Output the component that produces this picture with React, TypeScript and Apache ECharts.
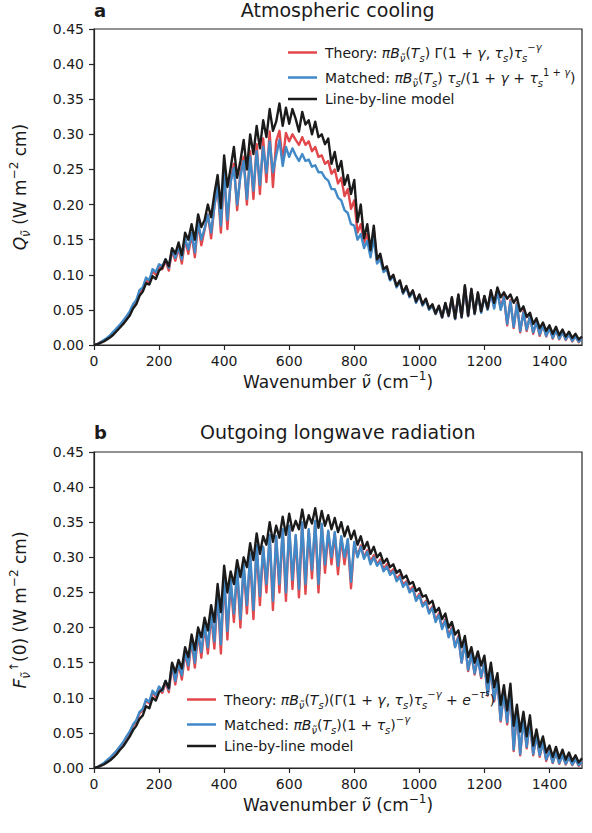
import React, { useEffect, useRef } from "react";
import * as echarts from "echarts";

const WAVENUMBER_STEP = 10; // cm^-1 spacing of the sampled spectra below (0..1500)
const Y_TICKS = [0, 0.05, 0.1, 0.15, 0.2, 0.25, 0.3, 0.35, 0.4, 0.45];
const X_TICKS = [0, 200, 400, 600, 800, 1000, 1200, 1400];

// Panel a: atmospheric cooling Q (W m^-2 cm)
const coolingLbl = [
  0.000, 0.001, 0.003, 0.005, 0.008, 0.011, 0.015, 0.020, 0.025, 0.030,
  0.036, 0.042, 0.052, 0.058, 0.070, 0.076, 0.088, 0.086, 0.098, 0.094,
  0.106, 0.110, 0.122, 0.112, 0.138, 0.130, 0.146, 0.128, 0.160, 0.150,
  0.172, 0.150, 0.186, 0.168, 0.178, 0.200, 0.182, 0.215, 0.242, 0.195,
  0.270, 0.225, 0.252, 0.282, 0.238, 0.262, 0.292, 0.250, 0.300, 0.272,
  0.312, 0.280, 0.320, 0.296, 0.336, 0.305, 0.318, 0.344, 0.312, 0.338,
  0.315, 0.336, 0.322, 0.304, 0.332, 0.314, 0.320, 0.300, 0.318, 0.296,
  0.300, 0.286, 0.294, 0.258, 0.275, 0.248, 0.262, 0.228, 0.242, 0.215,
  0.235, 0.175, 0.200, 0.152, 0.172, 0.135, 0.170, 0.122, 0.130, 0.108,
  0.112, 0.094, 0.100, 0.084, 0.092, 0.075, 0.084, 0.070, 0.078, 0.062,
  0.072, 0.058, 0.066, 0.052, 0.058, 0.045, 0.056, 0.040, 0.060, 0.042,
  0.068, 0.038, 0.072, 0.040, 0.085, 0.042, 0.080, 0.045, 0.075, 0.048,
  0.070, 0.052, 0.078, 0.060, 0.082, 0.068, 0.075, 0.066, 0.072, 0.060,
  0.068, 0.048, 0.055, 0.040, 0.046, 0.030, 0.038, 0.024, 0.032, 0.020,
  0.028, 0.016, 0.026, 0.014, 0.022, 0.012, 0.019, 0.010, 0.016, 0.008,
  0.012,
];
const coolingMatched = [
  0.000, 0.001, 0.004, 0.007, 0.010, 0.014, 0.019, 0.024, 0.029, 0.035,
  0.041, 0.048, 0.058, 0.064, 0.078, 0.082, 0.096, 0.092, 0.108, 0.104,
  0.115, 0.112, 0.122, 0.110, 0.136, 0.124, 0.140, 0.122, 0.152, 0.136,
  0.160, 0.132, 0.175, 0.150, 0.166, 0.185, 0.160, 0.198, 0.226, 0.170,
  0.246, 0.178, 0.232, 0.252, 0.200, 0.240, 0.262, 0.208, 0.268, 0.220,
  0.276, 0.228, 0.282, 0.245, 0.290, 0.246, 0.270, 0.292, 0.255, 0.282,
  0.268, 0.280, 0.270, 0.262, 0.272, 0.262, 0.264, 0.254, 0.256, 0.246,
  0.246, 0.238, 0.234, 0.222, 0.222, 0.210, 0.206, 0.192, 0.188, 0.172,
  0.170, 0.150, 0.158, 0.138, 0.148, 0.125, 0.152, 0.116, 0.122, 0.104,
  0.108, 0.092, 0.098, 0.082, 0.090, 0.073, 0.082, 0.068, 0.076, 0.060,
  0.070, 0.056, 0.064, 0.050, 0.056, 0.044, 0.054, 0.039, 0.058, 0.041,
  0.066, 0.037, 0.070, 0.039, 0.083, 0.041, 0.078, 0.044, 0.073, 0.046,
  0.068, 0.050, 0.074, 0.052, 0.076, 0.050, 0.068, 0.030, 0.062, 0.026,
  0.058, 0.020, 0.046, 0.022, 0.040, 0.018, 0.032, 0.015, 0.028, 0.013,
  0.024, 0.010, 0.021, 0.009, 0.018, 0.008, 0.015, 0.006, 0.012, 0.005,
  0.009,
];
const coolingTheory = [
  0.000, 0.001, 0.004, 0.006, 0.009, 0.013, 0.018, 0.023, 0.028, 0.033,
  0.039, 0.046, 0.055, 0.061, 0.075, 0.079, 0.093, 0.089, 0.105, 0.100,
  0.112, 0.108, 0.120, 0.106, 0.134, 0.120, 0.138, 0.116, 0.150, 0.130,
  0.158, 0.125, 0.174, 0.142, 0.164, 0.186, 0.152, 0.198, 0.228, 0.160,
  0.248, 0.165, 0.234, 0.258, 0.192, 0.244, 0.268, 0.200, 0.276, 0.208,
  0.286, 0.215, 0.294, 0.232, 0.304, 0.225, 0.290, 0.305, 0.262, 0.302,
  0.290, 0.300, 0.292, 0.285, 0.296, 0.285, 0.290, 0.276, 0.282, 0.268,
  0.270, 0.258, 0.262, 0.244, 0.250, 0.230, 0.238, 0.212, 0.222, 0.194,
  0.206, 0.160, 0.172, 0.146, 0.158, 0.128, 0.164, 0.118, 0.126, 0.106,
  0.110, 0.093, 0.099, 0.083, 0.091, 0.074, 0.083, 0.069, 0.077, 0.061,
  0.071, 0.057, 0.065, 0.051, 0.057, 0.044, 0.055, 0.039, 0.059, 0.041,
  0.067, 0.037, 0.071, 0.039, 0.084, 0.041, 0.079, 0.044, 0.074, 0.047,
  0.069, 0.051, 0.076, 0.054, 0.079, 0.052, 0.070, 0.028, 0.064, 0.024,
  0.060, 0.018, 0.048, 0.020, 0.042, 0.016, 0.034, 0.013, 0.030, 0.012,
  0.025, 0.009, 0.022, 0.008, 0.019, 0.007, 0.016, 0.005, 0.013, 0.004,
  0.010,
];

// Panel b: outgoing longwave radiation F(0) (W m^-2 cm)
const olrLbl = [
  0.000, 0.001, 0.003, 0.005, 0.008, 0.011, 0.015, 0.020, 0.026, 0.031,
  0.038, 0.045, 0.054, 0.060, 0.070, 0.075, 0.088, 0.085, 0.100, 0.096,
  0.108, 0.112, 0.124, 0.114, 0.150, 0.136, 0.154, 0.142, 0.172, 0.158,
  0.190, 0.168, 0.200, 0.186, 0.214, 0.196, 0.232, 0.208, 0.262, 0.222,
  0.288, 0.250, 0.280, 0.262, 0.296, 0.272, 0.300, 0.286, 0.320, 0.296,
  0.334, 0.305, 0.330, 0.318, 0.350, 0.322, 0.345, 0.328, 0.358, 0.332,
  0.362, 0.338, 0.352, 0.340, 0.368, 0.342, 0.360, 0.348, 0.370, 0.342,
  0.366, 0.345, 0.360, 0.340, 0.356, 0.336, 0.350, 0.330, 0.344, 0.326,
  0.338, 0.318, 0.330, 0.312, 0.322, 0.305, 0.315, 0.300, 0.306, 0.292,
  0.298, 0.286, 0.290, 0.278, 0.282, 0.270, 0.274, 0.262, 0.265, 0.252,
  0.256, 0.244, 0.246, 0.234, 0.238, 0.222, 0.228, 0.212, 0.220, 0.200,
  0.208, 0.190, 0.196, 0.172, 0.188, 0.158, 0.172, 0.150, 0.166, 0.146,
  0.160, 0.122, 0.150, 0.115, 0.135, 0.090, 0.118, 0.082, 0.120, 0.060,
  0.090, 0.052, 0.080, 0.045, 0.075, 0.032, 0.055, 0.030, 0.045, 0.022,
  0.032, 0.016, 0.030, 0.014, 0.026, 0.012, 0.022, 0.010, 0.018, 0.008,
  0.014,
];
const olrMatched = [
  0.000, 0.001, 0.004, 0.007, 0.011, 0.015, 0.020, 0.025, 0.031, 0.037,
  0.045, 0.052, 0.062, 0.068, 0.080, 0.084, 0.098, 0.094, 0.110, 0.104,
  0.116, 0.110, 0.124, 0.112, 0.148, 0.124, 0.150, 0.132, 0.166, 0.146,
  0.184, 0.150, 0.194, 0.165, 0.205, 0.172, 0.222, 0.180, 0.250, 0.176,
  0.275, 0.195, 0.268, 0.220, 0.284, 0.212, 0.290, 0.232, 0.305, 0.225,
  0.318, 0.245, 0.315, 0.262, 0.332, 0.238, 0.330, 0.262, 0.340, 0.250,
  0.345, 0.268, 0.332, 0.255, 0.350, 0.262, 0.340, 0.282, 0.352, 0.262,
  0.348, 0.290, 0.338, 0.300, 0.336, 0.288, 0.330, 0.300, 0.326, 0.265,
  0.322, 0.300, 0.315, 0.298, 0.308, 0.290, 0.300, 0.288, 0.294, 0.280,
  0.287, 0.275, 0.280, 0.266, 0.272, 0.258, 0.264, 0.250, 0.255, 0.238,
  0.246, 0.230, 0.236, 0.220, 0.228, 0.208, 0.218, 0.198, 0.210, 0.186,
  0.198, 0.172, 0.186, 0.150, 0.178, 0.140, 0.162, 0.135, 0.156, 0.130,
  0.150, 0.105, 0.140, 0.097, 0.125, 0.068, 0.108, 0.065, 0.110, 0.026,
  0.080, 0.020, 0.070, 0.030, 0.066, 0.020, 0.046, 0.018, 0.036, 0.012,
  0.024, 0.008, 0.022, 0.007, 0.018, 0.006, 0.015, 0.005, 0.012, 0.004,
  0.009,
];
const olrTheory = [
  0.000, 0.001, 0.004, 0.006, 0.010, 0.014, 0.019, 0.024, 0.030, 0.036,
  0.043, 0.050, 0.060, 0.066, 0.078, 0.082, 0.096, 0.092, 0.108, 0.101,
  0.114, 0.107, 0.122, 0.108, 0.146, 0.119, 0.148, 0.126, 0.164, 0.140,
  0.182, 0.143, 0.192, 0.157, 0.203, 0.163, 0.220, 0.170, 0.248, 0.163,
  0.273, 0.183, 0.266, 0.208, 0.282, 0.200, 0.288, 0.220, 0.303, 0.212,
  0.316, 0.232, 0.313, 0.250, 0.330, 0.225, 0.328, 0.250, 0.338, 0.238,
  0.343, 0.255, 0.330, 0.243, 0.348, 0.248, 0.338, 0.270, 0.350, 0.250,
  0.346, 0.278, 0.336, 0.290, 0.334, 0.276, 0.328, 0.290, 0.324, 0.256,
  0.320, 0.302, 0.317, 0.300, 0.310, 0.293, 0.303, 0.290, 0.297, 0.283,
  0.290, 0.278, 0.283, 0.269, 0.275, 0.261, 0.266, 0.252, 0.258, 0.240,
  0.248, 0.232, 0.238, 0.222, 0.230, 0.210, 0.220, 0.200, 0.212, 0.188,
  0.200, 0.173, 0.188, 0.150, 0.180, 0.138, 0.164, 0.133, 0.158, 0.128,
  0.152, 0.103, 0.142, 0.095, 0.127, 0.066, 0.110, 0.062, 0.112, 0.024,
  0.082, 0.018, 0.072, 0.028, 0.068, 0.018, 0.048, 0.016, 0.038, 0.010,
  0.026, 0.007, 0.023, 0.006, 0.019, 0.005, 0.016, 0.004, 0.013, 0.003,
  0.010,
];

const FONT = "'DejaVu Sans', sans-serif";
const INK = "#1a1a1a";
const RED = "#e2474c";
const BLUE = "#4189c7";
const BLACK = "#1b1b1b";

const LEGEND_TEXT: Record<string, string> = {
  ta: "{n|Theory: }{i|πB}{sub|ν̃}{n|(}{i|T}{sub|s}{n|) Γ(1 + }{i|γ}{n|, }{i|τ}{sub|s}{n|)}{i|τ}{sub|s}{sup|−}{isup|γ}",
  ma: "{n|Matched: }{i|πB}{sub|ν̃}{n|(}{i|T}{sub|s}{n|) }{i|τ}{sub|s}{n|/(1 + }{i|γ}{n| + }{i|τ}{sub|s}{sup|1 + }{isup|γ}{n|)}",
  la: "{n|Line-by-line model}",
  tb: "{n|Theory: }{i|πB}{sub|ν̃}{n|(}{i|T}{sub|s}{n|)(Γ(1 + }{i|γ}{n|, }{i|τ}{sub|s}{n|)}{i|τ}{sub|s}{sup|−}{isup|γ}{n| + }{i|e}{sup|−}{isup|τ}{ssub|s}{n|)}",
  mb: "{n|Matched: }{i|πB}{sub|ν̃}{n|(}{i|T}{sub|s}{n|)(1 + }{i|τ}{sub|s}{n|)}{sup|−}{isup|γ}",
  lb: "{n|Line-by-line model}",
};

function makeRich(size: number, lh: number) {
  const small = Math.round(size * 0.7);
  return {
    n: { fontFamily: FONT, fontSize: size, lineHeight: lh, color: INK },
    i: { fontFamily: FONT, fontSize: size, lineHeight: lh, color: INK, fontStyle: "italic" },
    sub: { fontFamily: FONT, fontSize: small, lineHeight: small + 2, color: INK, fontStyle: "italic", verticalAlign: "bottom" },
    sup: { fontFamily: FONT, fontSize: small, lineHeight: small + 2, color: INK, verticalAlign: "top" },
    isup: { fontFamily: FONT, fontSize: small, lineHeight: small + 2, color: INK, fontStyle: "italic", verticalAlign: "top" },
    ssub: { fontFamily: FONT, fontSize: small - 2, lineHeight: small + 6, color: INK, fontStyle: "italic", verticalAlign: "top" },
  };
}

function pairs(values: number[]) {
  return values.map((v, i) => [i * WAVENUMBER_STEP, v]);
}

export default function App() {
  const ref = useRef<HTMLDivElement>(null);
  useEffect(() => {
    document.body.style.margin = "0";
    const chart = echarts.init(ref.current!, null, { renderer: "svg" });
    const axisColor = "#262626";
    const xAxisBase = (gridIndex: number) => ({
      type: "value",
      gridIndex,
      min: 0,
      max: 1500,
      interval: 200,
      name: "{n|Wavenumber }{i|ν̃}{n| (cm}{sup|−1}{n|)}",
      nameLocation: "middle",
      nameGap: 25,
      nameTextStyle: { rich: makeRich(17, 24) },
      axisLine: { show: true, lineStyle: { color: axisColor, width: 1.2 } },
      axisTick: { show: true, inside: false, length: 5, lineStyle: { color: axisColor, width: 1.2 } },
      axisLabel: {
        showMaxLabel: false,
        margin: 9,
        fontFamily: FONT,
        fontSize: 14,
        color: INK,
        formatter: (v: number) => (X_TICKS.includes(v) ? String(v) : ""),
      },
      splitLine: { show: false },
    });
    const yAxisBase = (gridIndex: number, name: string) => ({
      type: "value",
      gridIndex,
      min: Y_TICKS[0],
      max: Y_TICKS[Y_TICKS.length - 1],
      interval: 0.05,
      name,
      nameLocation: "middle",
      nameGap: 62,
      nameTextStyle: { rich: makeRich(17, 24) },
      axisLine: { show: true, lineStyle: { color: axisColor, width: 1.2 } },
      axisTick: { show: true, inside: false, length: 5, lineStyle: { color: axisColor, width: 1.2 } },
      axisLabel: { margin: 10, fontFamily: FONT, fontSize: 14, color: INK, formatter: (v: number) => v.toFixed(2) },
      splitLine: { show: false },
    });
    const lineSeries = (name: string, data: number[], color: string, idx: number) => ({
      name,
      type: "line",
      xAxisIndex: idx,
      yAxisIndex: idx,
      data: pairs(data),
      showSymbol: false,
      symbol: "none",
      lineStyle: { color, width: 2.4, join: "round" },
      itemStyle: { color },
      emphasis: { disabled: true },
    });
    const legendBase = (data: string[], left: number, top: number) => ({
      data,
      left,
      top,
      orient: "vertical",
      icon: "rect",
      itemWidth: 29,
      itemHeight: 2.5,
      itemGap: 4,
      selectedMode: false,
      formatter: (name: string) => LEGEND_TEXT[name],
      textStyle: { rich: makeRich(14, 21), padding: [0, 0, 0, 3] },
    });
    chart.setOption({
      animation: false,
      backgroundColor: "#ffffff",
      grid: [
        { left: 93.5, top: 29, width: 488.5, height: 316, show: true, borderColor: axisColor, borderWidth: 1.2, containLabel: false },
        { left: 93.5, top: 452, width: 488.5, height: 316, show: true, borderColor: axisColor, borderWidth: 1.2, containLabel: false },
      ],
      xAxis: [xAxisBase(0), xAxisBase(1)],
      yAxis: [
        yAxisBase(0, "{i|Q}{sub|ν̃}{n| (W m}{sup|−2}{n| cm)}"),
        yAxisBase(1, "{i|F}{sub|ν̃}{sup|↑}{n|(0) (W m}{sup|−2}{n| cm)}"),
      ],
      legend: [legendBase(["ta", "ma", "la"], 283, 37), legendBase(["tb", "mb", "lb"], 182, 684)],
      series: [
        lineSeries("ta", coolingTheory, RED, 0),
        lineSeries("ma", coolingMatched, BLUE, 0),
        lineSeries("la", coolingLbl, BLACK, 0),
        lineSeries("tb", olrTheory, RED, 1),
        lineSeries("mb", olrMatched, BLUE, 1),
        lineSeries("lb", olrLbl, BLACK, 1),
      ],
      graphic: [
        { type: "text", x: 94, y: 10, style: { text: "a", fontFamily: FONT, fontSize: 18, fontWeight: "bold", fill: INK, align: "left", verticalAlign: "middle", textAlign: "left", textVerticalAlign: "middle" } },
        { type: "text", x: 337.75, y: 10, style: { text: "Atmospheric cooling", fontFamily: FONT, fontSize: 19, fill: INK, align: "center", verticalAlign: "middle", textAlign: "center", textVerticalAlign: "middle" } },
        { type: "text", x: 94, y: 432, style: { text: "b", fontFamily: FONT, fontSize: 18, fontWeight: "bold", fill: INK, align: "left", verticalAlign: "middle", textAlign: "left", textVerticalAlign: "middle" } },
        { type: "text", x: 337.75, y: 432, style: { text: "Outgoing longwave radiation", fontFamily: FONT, fontSize: 19, fill: INK, align: "center", verticalAlign: "middle", textAlign: "center", textVerticalAlign: "middle" } },
      ],
    });
    return () => chart.dispose();
  }, []);
  return <div ref={ref} style={{ width: 592, height: 833 }} />;
}
